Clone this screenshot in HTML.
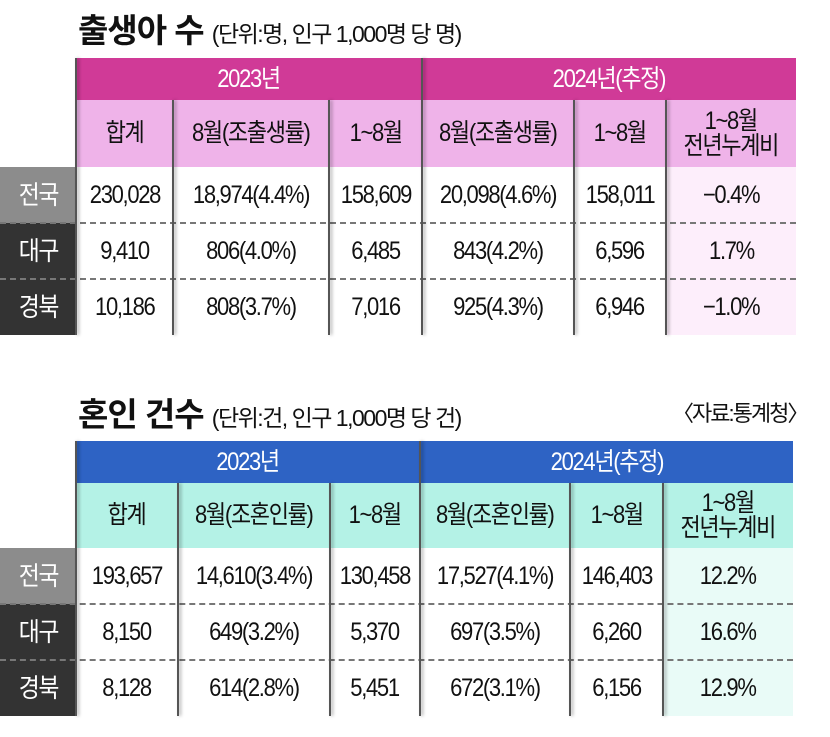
<!DOCTYPE html>
<html><head><meta charset="utf-8">
<style>
body{margin:0;width:830px;height:737px;background:#fff;position:relative;overflow:hidden;font-family:"Liberation Sans","Noto Sans CJK KR",sans-serif;}
.t{position:absolute;white-space:nowrap;color:#111;}
.c{position:absolute;display:flex;align-items:center;justify-content:center;text-align:center;font-size:25px;letter-spacing:-1.5px;color:#111;line-height:1.0;box-sizing:border-box;}
.c span{display:inline-block;transform:scaleX(.88);white-space:nowrap;}
.dash{position:absolute;height:0;border-top:2px dashed #777;}
.vl{position:absolute;width:2px;background:#555;box-shadow:2px 0 3px rgba(0,0,0,.35);}
</style></head><body>
<div class="t" style="left:78px;top:4px;font-size:33px;font-weight:bold;letter-spacing:-1px">출생아 수 <span style="font-size:23px;font-weight:normal;letter-spacing:-1.5px">(단위:명, 인구 1,000명 당 명)</span></div>
<div class="t" style="left:78px;top:388px;font-size:33px;font-weight:bold;letter-spacing:-1px">혼인 건수 <span style="font-size:23px;font-weight:normal;letter-spacing:-1.5px">(단위:건, 인구 1,000명 당 건)</span></div>
<div class="t" style="left:672px;top:396px;font-size:22px;letter-spacing:-2px">〈자료:통계청〉</div>
<script>
const rows=["전국","대구","경북"];
const birthHeads=["합계","8월(조출생률)","1~8월","8월(조출생률)","1~8월","1~8월<br>전년누계비"];
const birthData=[["230,028","18,974(4.4%)","158,609","20,098(4.6%)","158,011","−0.4%"],["9,410","806(4.0%)","6,485","843(4.2%)","6,596","1.7%"],["10,186","808(3.7%)","7,016","925(4.3%)","6,946","−1.0%"]];
const marHeads=["합계","8월(조혼인률)","1~8월","8월(조혼인률)","1~8월","1~8월<br>전년누계비"];
const marData=[["193,657","14,610(3.4%)","130,458","17,527(4.1%)","146,403","12.2%"],["8,150","649(3.2%)","5,370","697(3.5%)","6,260","16.6%"],["8,128","614(2.8%)","5,451","672(3.1%)","6,156","12.9%"]];
function box(x,y,w,h,html,bg,col,extra){const d=document.createElement('div');d.className='c';d.style.cssText+=`left:${x}px;top:${y}px;width:${w}px;height:${h}px;background:${bg};color:${col};`+(extra||'');d.innerHTML='<span>'+html+'</span>';document.body.appendChild(d);return d;}
function table(pref,y0,cols,heads,data,c1,c2,lastbg){
  const h1=42,h2=cols.hh,rh=56;
  let d=box(cols.x[0],y0,cols.x[3]-cols.x[0],h1,"2023년",c1,"#fff");
  
  
  d=box(cols.x[3],y0,cols.x[6]-cols.x[3],h1,"2024년(추정)",c1,"#fff");
  
  
  const y1=y0+h1,y2=y1+h2;
  for(let i=0;i<6;i++){
    d=box(cols.x[i],y1,cols.x[i+1]-cols.x[i],h2,heads[i],c2,"#111");
    
    
  }
  for(let r=0;r<3;r++){
    const y=y2+r*rh;
    d=box(0,y,cols.x[0],rh,rows[r],r==0?"#8c8c8c":"#333","#fff","font-size:26px;");
    
    
    for(let i=0;i<6;i++){
      d=box(cols.x[i],y,cols.x[i+1]-cols.x[i],rh,data[r][i],i==5?lastbg:"#fff","#111");
      
      
    }
    if(r>0){const l=document.createElement('div');l.className='dash';l.style.cssText=`left:0;top:${y-1}px;width:${cols.x[6]}px;`;
      
      
      document.body.appendChild(l);}
  }
  for(let i=0;i<6;i++){
    const top=(i==0||i==3)?y0:y1;
    const l=document.createElement('div');l.className='vl';l.style.cssText=`left:${cols.x[i]-1}px;top:${top}px;height:${y2+3*rh-top}px;`;
    
    
    document.body.appendChild(l);
  }
}
table('birth',58,{x:[76,173,329,422,574,666,796],hh:67},birthHeads,birthData,"#d03a97","#efb3e9","#fdeefb");
table('marriage',441,{x:[76,178,330,420,570,663,793],hh:65},marHeads,marData,"#2e63c4","#b4f2e6","#e9fbf7");
</script>
</body></html>
